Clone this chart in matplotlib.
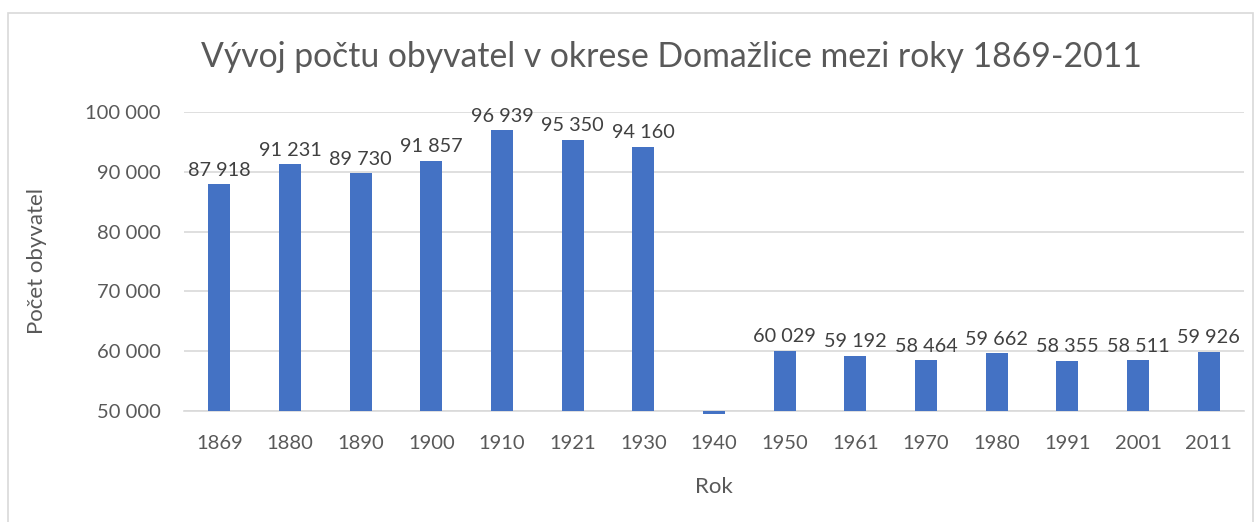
import matplotlib
matplotlib.use("Agg")
import matplotlib.pyplot as plt
from matplotlib.patches import Rectangle

years = ["1869", "1880", "1890", "1900", "1910", "1921", "1930", "1940",
         "1950", "1961", "1970", "1980", "1991", "2001", "2011"]
population = [87918, 91231, 89730, 91857, 96939, 95350, 94160, 49500,
              60029, 59192, 58464, 59662, 58355, 58511, 59926]
labeled = [True, True, True, True, True, True, True, False,
           True, True, True, True, True, True, True]
yticks = [50000, 60000, 70000, 80000, 90000, 100000]

plt.rcParams['font.family'] = ['Lato', 'DejaVu Sans']

W, H = 1260, 522
fig = plt.figure(figsize=(W / 100, H / 100), dpi=100)
fig.patches.append(Rectangle((8 / W, -0.01), (1253 - 8) / W, (H - 13) / H + 0.01,
                             transform=fig.transFigure, fill=False,
                             edgecolor="#d9d9d9", linewidth=1.2))

ax = fig.add_axes([184 / W, 1 - 411 / H, (1244 - 184) / W, (411 - 112) / H])
base = 50000
x = list(range(len(years)))
ax.bar(x, [p - base for p in population], bottom=base, width=0.31,
       color="#4472c4", clip_on=False, zorder=3)
for i, (p, lab) in enumerate(zip(population, labeled)):
    if lab:
        s = f"{p:,}".replace(",", " ")
        ax.annotate(s, (i, p), xytext=(0, 4), textcoords="offset points",
                    ha="center", va="bottom", fontsize=14.3, color="#404040")

ax.set_xlim(-0.5, len(years) - 0.5)
ax.set_ylim(50000, 100000)
ax.set_yticks(yticks)
ax.set_yticklabels([f"{t:,}".replace(",", " ") for t in yticks])
ax.set_xticks(x)
ax.set_xticklabels(years)
ax.grid(axis="y", color="#d9d9d9", linewidth=1.2, zorder=0)
for s in ["top", "right", "left"]:
    ax.spines[s].set_visible(False)
ax.spines["bottom"].set_color("#d9d9d9")
ax.spines["bottom"].set_linewidth(1.2)
ax.tick_params(axis="both", length=0, labelsize=14.5, labelcolor="#595959")
ax.tick_params(axis="y", pad=17)
ax.tick_params(axis="x", pad=17)

ax.set_xlabel("Rok", fontsize=16, color="#595959", labelpad=18)
ax.set_ylabel("Počet obyvatel", fontsize=16, color="#595959", labelpad=27)
fig.text(0.5 * (203 + 1140) / W, 1 - 57 / H,
         "Vývoj počtu obyvatel v okrese Domažlice mezi roky 1869-2011",
         ha="center", va="center", fontsize=24.3, color="#595959")

fig.savefig("out.png", dpi=100)
